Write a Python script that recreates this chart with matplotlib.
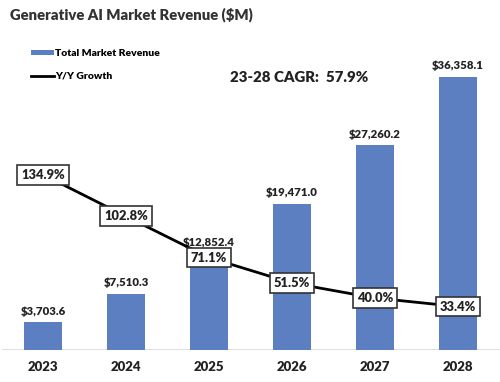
import matplotlib
matplotlib.use("Agg")
import matplotlib.pyplot as plt
from matplotlib.patches import Patch
from matplotlib.lines import Line2D

years = ["2023", "2024", "2025", "2026", "2027", "2028"]
revenue = [3703.6, 7510.3, 12852.4, 19471.0, 27260.2, 36358.1]
growth = [134.9, 102.8, 71.1, 51.5, 40.0, 33.4]
title = "Generative AI Market Revenue ($M)"
cagr_text = "23-28 CAGR:  57.9%"

plt.rcParams['font.family'] = ['Lato', 'DejaVu Sans']

W, H = 500, 382
fig = plt.figure(figsize=(W/100, H/100), dpi=100)
ax_bottom = (H - 350) / H
ax_top_px = 40
ax = fig.add_axes([1.5/W, ax_bottom, 498/W, (350 - ax_top_px)/H])
ax2 = ax.twinx()

x = list(range(len(years)))
bar_color = '#5B7FC0'
ax.bar(x, revenue, width=0.46, color=bar_color, zorder=2)
ax.set_xlim(-0.5, 5.5)
ax.set_ylim(0, (350 - ax_top_px) / 0.00751)
ax2.set_ylim(0, (350 - ax_top_px) / 1.3)

for xi, v in zip(x, revenue):
    ax.annotate(f"${v:,.1f}", (xi, v), xytext=(0, 4), textcoords='offset points',
                ha='center', va='bottom', fontsize=8.2, fontweight='heavy', color='#222222')

ax2.plot(x, growth, color='black', lw=2, zorder=3)
for xi, g in zip(x, growth):
    ax2.text(xi, g, f"{g:.1f}%", ha='center', va='center', fontsize=9.3, fontweight='heavy',
             color='#222222', zorder=4,
             bbox=dict(boxstyle='square,pad=0.3', fc='white', ec='#333333', lw=1.2))

for a in (ax, ax2):
    for s in a.spines.values():
        s.set_visible(False)
    a.set_yticks([])
ax.set_xticks(x)
ax.set_xticklabels(years, fontsize=9.5, fontweight='heavy', color='#222222')
ax.tick_params(axis='x', length=0, pad=8)
ax.axhline(0, color='#d9d9d9', lw=1.2, zorder=1)

fig.text(10/W, 1 - 15/H, title, fontsize=10.7, fontweight='heavy', color='#333333',
         ha='left', va='center')
fig.text(230/W, 1 - 78/H, cagr_text, fontsize=10.8, fontweight='heavy', color='#222222',
         ha='left', va='center')

handles = [Patch(facecolor=bar_color, edgecolor='none', label='Total Market Revenue'),
           Line2D([0], [0], color='black', lw=2, label='Y/Y Growth')]
fig.legend(handles=handles, loc='upper left', bbox_to_anchor=(22/W, 1 - 40/H),
           frameon=False, handlelength=2.2, handleheight=0.45,
           handletextpad=0.1, labelspacing=1.3, prop={'weight': 'heavy', 'size': 7.5})

fig.savefig("out.png", dpi=100)
